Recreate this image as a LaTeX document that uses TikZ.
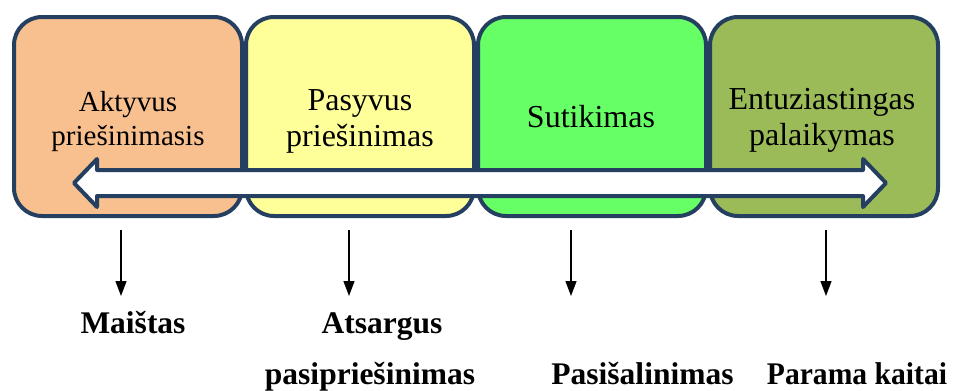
\documentclass[tikz,border=0pt]{standalone}
\usepackage{fontspec}
\setmainfont{Liberation Serif}
\usetikzlibrary{arrows.meta}
\definecolor{navy}{HTML}{243F60}
\definecolor{peach}{HTML}{F9C08F}
\definecolor{paleyellow}{HTML}{FFFF99}
\definecolor{brightgreen}{HTML}{66FF66}
\definecolor{olive}{HTML}{9BBB59}
\tikzset{
  stage/.style={draw=navy, line width=4pt, rounded corners=28pt,
    minimum width=228pt, minimum height=199pt, inner sep=0pt},
  stagetext/.style={align=center, inner sep=0pt, font=\fontsize{32}{36}\selectfont},
  outcome/.style={font=\bfseries\fontsize{31.5}{36}\selectfont, anchor=base, inner sep=0pt},
  down/.style={line width=1.3pt, -{Triangle[length=15pt,width=11pt]}},
}
\begin{document}
\begin{tikzpicture}[x=1pt,y=-1pt]
\useasboundingbox (0,0) rectangle (962,391);
% four stages, left to right
\node[stage, fill=peach]       (b1) at (128,116.5) {};
\node[stage, fill=paleyellow]  (b2) at (360,116.5) {};
\node[stage, fill=brightgreen] (b3) at (592,116.5) {};
\node[stage, fill=olive]       (b4) at (824,116.5) {};
\node[stagetext, font=\fontsize{29}{34}\selectfont] (t1) at (128,121.3) {Aktyvus\\priešinimasis};
\node[stagetext] (t2) at (360,121.4) {Pasyvus\\priešinimas};
\node[stagetext] (t3) at (591,117) {Sutikimas};
\node[stagetext] (t4) at (822,120.5) {Entuziastingas\\palaikymas};
% double-headed block arrow across the stages
\draw[navy, line width=4pt, fill=white, line join=round]
  (74,183) -- (97,159) -- (97,170) -- (863,170) -- (863,159) -- (886,183)
  -- (863,207) -- (863,196) -- (97,196) -- (97,207) -- cycle;
% outcomes
\coordinate (s1) at (121,230); \coordinate (e1) at (121,296);
\coordinate (s2) at (349,230); \coordinate (e2) at (349,296);
\coordinate (s3) at (571,230); \coordinate (e3) at (571,296);
\coordinate (s4) at (826,230); \coordinate (e4) at (826,296);
\draw[down] (s1) -- (e1);
\draw[down] (s2) -- (e2);
\draw[down] (s3) -- (e3);
\draw[down] (s4) -- (e4);
\node[outcome] (o1)  at (133,333) {Maištas};
\node[outcome] (o2a) at (382,333) {Atsargus};
\node[outcome] (o2b) at (370,384) {pasipriešinimas};
\node[outcome] (o3)  at (642.5,384) {Pasišalinimas};
\node[outcome, xscale=0.94, transform shape] (o4) at (857,384) {Parama kaitai};
\end{tikzpicture}
\end{document}
